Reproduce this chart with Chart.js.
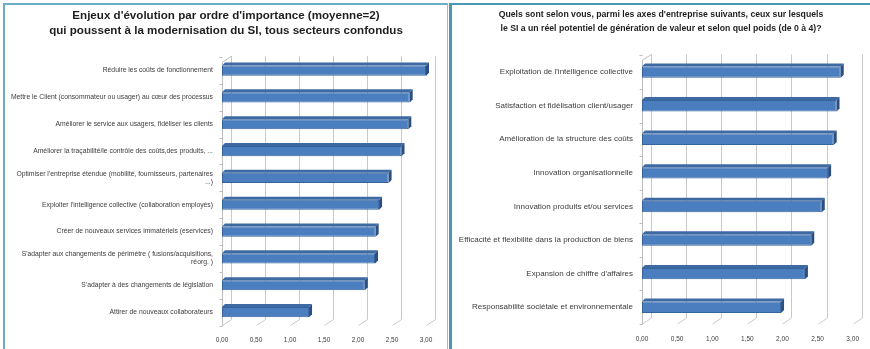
<!DOCTYPE html>
<html>
<head>
<meta charset="utf-8">
<script src="https://cdn.jsdelivr.net/npm/chart.js@4"></script>
<style>
  html, body { margin: 0; padding: 0; background: #ffffff; }
  body { width: 870px; height: 349px; position: relative; overflow: hidden; }
  #panelL { position: absolute; left: 3px; top: 3px; width: 442px; height: 360px;
            border-left: 2px solid #6fadc6; border-top: 2px solid #6fadc6; border-right: 1px solid #9fb9c6; }
  #panelR { position: absolute; left: 449px; top: 3px; width: 430px; height: 360px;
            border-left: 3px solid #4a97b2; border-top: 2px solid #4a97b2; }
  #wrapL { position: absolute; left: 0px; top: 0px; width: 446px; height: 349px; }
  #wrapR { position: absolute; left: 452px; top: 0px; width: 418px; height: 349px; }
</style>
</head>
<body>
<div id="panelL"></div>
<div id="panelR"></div>
<div id="wrapL"><canvas id="chartL" width="446" height="349"></canvas></div>
<div id="wrapR"><canvas id="chartR" width="418" height="349"></canvas></div>
<script>
// ---- Data: left chart ----
const leftTitle = ["Enjeux d'évolution par ordre d'importance (moyenne=2)",
                   "qui poussent à la modernisation du SI, tous secteurs confondus"];
const leftCategories = [
  "Réduire les coûts de fonctionnement",
  "Mettre le Client (consommateur ou usager) au cœur des processus",
  "Améliorer le service aux usagers, fidéliser les clients",
  "Améliorer la traçabilité/le contrôle des coûts,des produits, ...",
  ["Optimiser l'entreprise étendue (mobilité, fournisseurs, partenaires", "...)"],
  "Exploiter l'intelligence collective (collaboration employés)",
  "Créer de nouveaux services immatériels (eservices)",
  ["S'adapter aux changements de périmètre ( fusions/acquisitions,", "réorg. )"],
  "S'adapter à des changements de législation",
  "Attirer de nouveaux collaborateurs"
];
const leftValues = [3.00, 2.76, 2.74, 2.64, 2.45, 2.31, 2.26, 2.25, 2.10, 1.28];

// ---- Data: right chart ----
const rightTitle = ["Quels sont selon vous, parmi les axes d'entreprise suivants, ceux sur lesquels",
                    "le SI a un réel potentiel de génération de valeur et selon quel poids (de 0 à 4)?"];
const rightCategories = [
  "Exploitation de l'intelligence collective",
  "Satisfaction et fidélisation client/usager",
  "Amélioration de la structure des coûts",
  "Innovation organisationnelle",
  "Innovation produits et/ou services",
  "Efficacité et flexibilité dans la production de biens",
  "Expansion de chiffre d'affaires",
  "Responsabilité sociétale et environnementale"
];
const rightValues = [2.83, 2.77, 2.73, 2.65, 2.56, 2.41, 2.32, 1.98];

// ---- Axis ticks ----
const axisMin = 0;
const axisMax = 3;
const axisStep = 0.5;
const fmt = v => Number(v).toFixed(2).replace('.', ',');

const FONT = "'Liberation Sans', Arial, sans-serif";

// 3D-look plugin: back-wall gridlines, floor diagonals, bar top/end faces
function make3D(DX, DY, d, titleL, titleR) {
  return {
    id: 'pseudo3d',
    afterLayout(chart) {
      const tb = chart.titleBlock;
      if (tb) { tb.left = titleL; tb.right = titleR; }
    },
    beforeDatasetsDraw(chart) {
      const ctx = chart.ctx;
      const xs = chart.scales.x, ys = chart.scales.y;
      const top = chart.chartArea.top, bottom = chart.chartArea.bottom;
      const gTop = top - 1;
      ctx.save();
      ctx.strokeStyle = '#c9c9c9';
      ctx.lineWidth = 1;
      xs.ticks.forEach(t => {
        const X = Math.round(xs.getPixelForValue(t.value)) + 0.5;
        ctx.beginPath();
        ctx.moveTo(X + DX, gTop);
        ctx.lineTo(X + DX, bottom - DY);
        ctx.lineTo(X, bottom);
        ctx.stroke();
      });
      // left wall
      const X0 = Math.round(xs.getPixelForValue(axisMin)) + 0.5;
      ctx.strokeStyle = '#bdbdbd';
      ctx.beginPath();
      ctx.moveTo(X0, bottom);
      ctx.lineTo(X0, gTop + DY);
      ctx.lineTo(X0 + DX, gTop);
      ctx.stroke();
      // category separators on the wall
      const n = ys.ticks.length;
      for (let i = 0; i <= n; i++) {
        const Y = Math.round(top + (bottom - top) * i / n) + 0.5;
        ctx.beginPath();
        ctx.moveTo(X0 - 3, Y);
        ctx.lineTo(X0, Y);
        ctx.stroke();
      }
      ctx.restore();
    },
    afterDatasetsDraw(chart) {
      const ctx = chart.ctx;
      const meta = chart.getDatasetMeta(0);
      ctx.save();
      meta.data.forEach(el => {
        const p = el.getProps(['x', 'y', 'base', 'height'], true);
        const t = p.y - p.height / 2, b = p.y + p.height / 2;
        // top face
        ctx.fillStyle = '#3d6aa3';
        ctx.beginPath();
        ctx.moveTo(p.base, t);
        ctx.lineTo(p.base + d, t - d);
        ctx.lineTo(p.x + d, t - d);
        ctx.lineTo(p.x, t);
        ctx.closePath();
        ctx.fill();
        // end face
        ctx.fillStyle = '#2b4f80';
        ctx.beginPath();
        ctx.moveTo(p.x, t);
        ctx.lineTo(p.x + d, t - d);
        ctx.lineTo(p.x + d, b - d);
        ctx.lineTo(p.x, b);
        ctx.closePath();
        ctx.fill();
      });
      ctx.restore();
    }
  };
}

function makeChart(id, title, cats, vals, cfg) {
  return new Chart(document.getElementById(id), {
    type: 'bar',
    data: {
      labels: cats,
      datasets: [{
        data: vals,
        backgroundColor: '#4a7ebe',
        borderColor: '#36639c',
        borderWidth: 1,
        borderSkipped: false,
        barPercentage: cfg.barPct,
        categoryPercentage: 1
      }]
    },
    options: {
      indexAxis: 'y',
      responsive: false,
      animation: false,
      layout: { padding: { left: 0, right: cfg.padRight, top: 0, bottom: 0 } },
      plugins: {
        legend: { display: false },
        tooltip: { enabled: false },
        title: {
          display: true,
          text: title,
          color: '#1e1e1e',
          font: { family: FONT, size: cfg.titleSize, weight: 'bold', lineHeight: cfg.titleLH },
          padding: { top: cfg.titleTop, bottom: cfg.titleBottom }
        }
      },
      scales: {
        x: {
          min: axisMin, max: axisMax,
          grid: { display: false, drawTicks: false },
          border: { display: false },
          ticks: {
            stepSize: axisStep,
            callback: v => fmt(v),
            color: '#404040',
            font: { family: FONT, size: 6.5 },
            padding: cfg.xPad,
            maxRotation: 0
          },
          afterFit: s => { s.height = cfg.xHeight; }
        },
        y: {
          grid: { display: false, drawTicks: false },
          border: { display: false },
          ticks: {
            color: '#3c3c3c',
            font: { family: FONT, size: cfg.labelSize },
            padding: cfg.yPad,
            autoSkip: false
          },
          afterFit: s => { s.width = cfg.yWidth; }
        }
      }
    },
    plugins: [make3D(cfg.DX, cfg.DY, 3, cfg.titleL, cfg.titleR)]
  });
}

makeChart('chartL', leftTitle, leftCategories, leftValues, {
  barPct: 0.38, padRight: 20, titleSize: 11.6, titleLH: 1.3,
  titleTop: 8.5, titleBottom: 18.5, xPad: 11, xHeight: 23.5, yPad: 9, yWidth: 222,
  labelSize: 6.8, DX: 9, DY: 6, titleL: 6, titleR: 446
});
makeChart('chartR', rightTitle, rightCategories, rightValues, {
  barPct: 0.34, padRight: 17, titleSize: 8.7, titleLH: 1.6,
  titleTop: 8, titleBottom: 19.5, xPad: 11, xHeight: 25, yPad: 9, yWidth: 190,
  labelSize: 8, DX: 9, DY: 6, titleL: 0, titleR: 418
});
</script>
</body>
</html>
